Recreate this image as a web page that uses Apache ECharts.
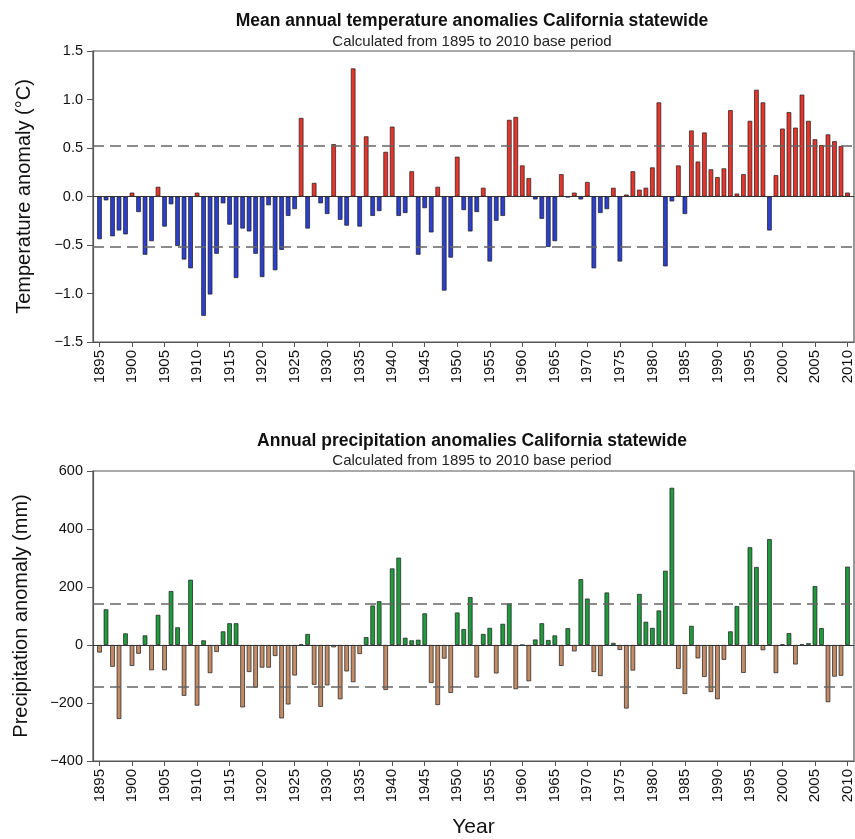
<!DOCTYPE html>
<html>
<head>
<meta charset="utf-8">
<script src="https://cdn.jsdelivr.net/npm/echarts@6/dist/echarts.min.js"></script>
<style>
  html, body { margin: 0; padding: 0; background: #fff; }
  #chart { width: 855px; height: 839px; }
</style>
</head>
<body>
<div id="chart"></div>
<script>
// Year range shown on both panels
const firstYear = 1895;
const lastYear = 2010;
const yearTicks = [1895, 1900, 1905, 1910, 1915, 1920, 1925, 1930, 1935, 1940, 1945, 1950,
  1955, 1960, 1965, 1970, 1975, 1980, 1985, 1990, 1995, 2000, 2005, 2010];

// Mean annual temperature anomaly (°C), 1895–2010
const tempAnomaly = [
  -0.44, -0.04, -0.41, -0.35, -0.39, 0.04, -0.16, -0.60, -0.46, 0.10,
  -0.31, -0.08, -0.51, -0.65, -0.74, 0.04, -1.23, -1.01, -0.59, -0.07,
  -0.29, -0.84, -0.33, -0.36, -0.59, -0.83, -0.09, -0.76, -0.55, -0.20,
  -0.13, 0.81, -0.33, 0.14, -0.07, -0.18, 0.54, -0.24, -0.30, 1.32,
  -0.31, 0.62, -0.20, -0.15, 0.46, 0.72, -0.20, -0.17, 0.26, -0.60,
  -0.12, -0.37, 0.10, -0.97, -0.63, 0.41, -0.14, -0.36, -0.16, 0.09,
  -0.67, -0.25, -0.20, 0.79, 0.82, 0.32, 0.19, -0.03, -0.23, -0.52,
  -0.46, 0.23, -0.01, 0.04, -0.03, 0.15, -0.74, -0.17, -0.13, 0.09,
  -0.67, 0.02, 0.26, 0.07, 0.09, 0.30, 0.97, -0.72, -0.05, 0.32,
  -0.18, 0.68, 0.36, 0.66, 0.28, 0.20, 0.29, 0.89, 0.03, 0.23,
  0.78, 1.10, 0.97, -0.35, 0.22, 0.70, 0.87, 0.71, 1.05, 0.78,
  0.59, 0.53, 0.64, 0.57, 0.52, 0.04
];

// Annual precipitation anomaly (mm), 1895–2010
const precipAnomaly = [
  -26, 123, -75, -255, 40, -72, -30, 33, -87, 104,
  -87, 186, 61, -175, 225, -209, 16, -97, -24, 47,
  75, 75, -215, -93, -147, -78, -78, -38, -253, -205,
  -105, 2, 38, -137, -213, -139, -8, -187, -91, -128,
  -31, 27, 136, 151, -155, 264, 301, 25, 16, 18,
  109, -131, -207, -47, -165, 112, 55, 165, -112, 38,
  59, -98, 73, 143, -152, 0, -125, 19, 75, 17,
  33, -72, 58, -22, 227, 160, -93, -107, 181, 7,
  -17, -219, -88, 176, 80, 59, 119, 256, 542, -82,
  -169, 66, -46, -110, -162, -187, -51, 47, 134, -96,
  337, 269, -18, 365, -97, 2, 41, -67, 2, 6,
  203, 58, -197, -109, -106, 270
];

// One standard deviation bands (dashed reference lines)
const tempSigma = 0.52;
const precipSigma = 143;

// Axis ranges
const tempRange = { min: -1.5, max: 1.5, interval: 0.5 };
const precipRange = { min: -400, max: 600, interval: 200 };

const FONT = '"Liberation Sans", Arial, sans-serif';
const MINUS = '\u2212';

function toPairs(values) {
  return values.map((v, i) => [firstYear + i, v]);
}

function fmtSigned(v, digits) {
  const s = Math.abs(v).toFixed(digits);
  return v < 0 ? MINUS + s : s;
}

const chart = echarts.init(document.getElementById('chart'), null, { renderer: 'canvas' });

const gridLeft = 93, gridRight = 1;
const titleCenter = 467;

function xAxisFor(gridIndex, withName) {
  return {
    type: 'value',
    gridIndex,
    min: firstYear - 1,
    max: lastYear + 1,
    splitLine: { show: false },
    axisLine: { show: true, onZero: false, lineStyle: { color: '#555', width: 1.2 } },
    axisTick: { show: true, customValues: yearTicks, length: 5, lineStyle: { color: '#555' } },
    axisLabel: {
      customValues: yearTicks,
      rotate: 90,
      color: '#111',
      fontFamily: FONT,
      fontSize: 15,
      margin: 8,
      formatter: v => String(v)
    },
    name: withName ? 'Year' : '',
    nameLocation: 'middle',
    nameGap: 56,
    nameTextStyle: { color: '#111', fontFamily: FONT, fontSize: 21 }
  };
}

function yAxisFor(gridIndex, range, digits, name, gap) {
  return {
    type: 'value',
    gridIndex,
    min: range.min,
    max: range.max,
    interval: range.interval,
    splitLine: { show: false },
    axisLine: { show: true, onZero: false, lineStyle: { color: '#555', width: 1.2 } },
    axisTick: { show: true, length: 6, lineStyle: { color: '#555' } },
    axisLabel: {
      color: '#111',
      fontFamily: FONT,
      fontSize: 14.5,
      margin: 10,
      formatter: v => fmtSigned(v, digits)
    },
    name,
    nameLocation: 'middle',
    nameRotate: 90,
    nameGap: gap,
    nameTextStyle: { color: '#111', fontFamily: FONT, fontSize: 20 }
  };
}

function refLines(sigma) {
  return {
    silent: true,
    symbol: 'none',
    label: { show: false },
    data: [
      { yAxis: sigma, lineStyle: { type: [11, 6], color: '#666', width: 1.6 } },
      { yAxis: -sigma, lineStyle: { type: [11, 6], color: '#666', width: 1.6 } },
      { yAxis: 0, lineStyle: { type: 'solid', color: '#333', width: 1.2 } }
    ]
  };
}

function barSeries(idx, values, posColor, negColor, sigma) {
  return {
    type: 'bar',
    xAxisIndex: idx,
    yAxisIndex: idx,
    data: toPairs(values),
    barWidth: 4.6,
    itemStyle: {
      color: p => (p.value[1] >= 0 ? posColor : negColor),
      borderColor: '#1a1a1a',
      borderWidth: 0.7
    },
    animation: false,
    markLine: refLines(sigma),
    z: 2
  };
}

const titleStyle = { fontFamily: FONT, fontSize: 17.5, fontWeight: 'bold', color: '#111' };
const subStyle = { fontFamily: FONT, fontSize: 15, fontWeight: 'normal', color: '#222' };

chart.setOption({
  animation: false,
  title: [
    { text: 'Mean annual temperature anomalies California statewide', left: titleCenter, top: 7, textAlign: 'center', textStyle: titleStyle },
    { text: 'Calculated from 1895 to 2010 base period', left: titleCenter, top: 29, textAlign: 'center', textStyle: subStyle },
    { text: 'Annual precipitation anomalies California statewide', left: titleCenter, top: 427, textAlign: 'center', textStyle: titleStyle },
    { text: 'Calculated from 1895 to 2010 base period', left: titleCenter, top: 448, textAlign: 'center', textStyle: subStyle }
  ],
  grid: [
    { left: gridLeft, right: gridRight, top: 51, height: 291, show: true, borderColor: '#555', borderWidth: 1.2, backgroundColor: 'transparent' },
    { left: gridLeft, right: gridRight, top: 471, height: 291, show: true, borderColor: '#555', borderWidth: 1.2, backgroundColor: 'transparent' }
  ],
  xAxis: [xAxisFor(0, false), xAxisFor(1, true)],
  yAxis: [
    yAxisFor(0, tempRange, 1, 'Temperature anomaly (°C)', 59),
    yAxisFor(1, precipRange, 0, 'Precipitation anomaly (mm)', 62)
  ],
  series: [
    barSeries(0, tempAnomaly, '#e8352b', '#2c3fcf', tempSigma),
    barSeries(1, precipAnomaly, '#1f9a3d', '#c48c66', precipSigma)
  ]
});
</script>
</body>
</html>
